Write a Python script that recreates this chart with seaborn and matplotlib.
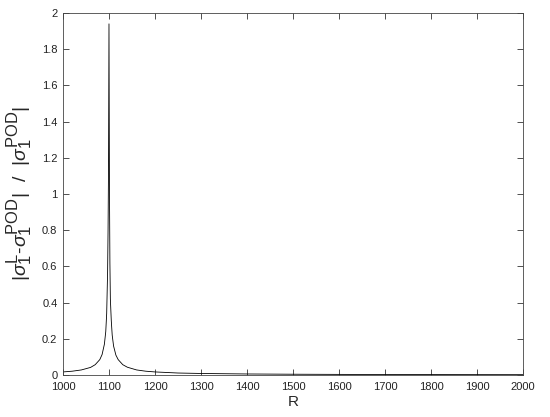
import numpy as np
import pandas as pd
import matplotlib
matplotlib.use("Agg")
import matplotlib.pyplot as plt
import matplotlib._mathtext as mtext
import seaborn as sb
from matplotlib.ticker import FormatStrFormatter

# Values
R_vals = [1000, 1020, 1040, 1060, 1070, 1080, 1085, 1090, 1093, 1095,
          1097, 1098, 1099, 1100, 1101, 1102, 1103, 1105, 1107, 1110,
          1115, 1120, 1130, 1140, 1160, 1180, 1200, 1250, 1300, 1400,
          1500, 1600, 1700, 1800, 1900, 2000]
rel_err = [0.017, 0.021, 0.028, 0.042, 0.057, 0.085, 0.113, 0.17, 0.24, 0.34,
           0.57, 0.8, 1.15, 1.94, 1.05, 0.62, 0.42, 0.3, 0.22, 0.16,
           0.11, 0.085, 0.057, 0.043, 0.028, 0.021, 0.017, 0.011, 0.0085, 0.0057,
           0.0043, 0.0034, 0.0028, 0.0024, 0.0021, 0.0019]
x_ticks = [1000, 1100, 1200, 1300, 1400, 1500, 1600, 1700, 1800, 1900, 2000]
y_ticks = [0, 0.2, 0.4, 0.6, 0.8, 1, 1.2, 1.4, 1.6, 1.8, 2]

df = pd.DataFrame({"R": R_vals, "err": rel_err})

sb.set_style("ticks")
plt.rcParams['font.family'] = ['Liberation Sans', 'DejaVu Sans']
plt.rcParams['mathtext.fontset'] = 'custom'
plt.rcParams['mathtext.rm'] = 'Liberation Sans'
plt.rcParams['mathtext.it'] = 'Liberation Sans:italic'
# bigger sub/superscripts, closer to the original look
mtext.SHRINK_FACTOR = 0.85

fig = plt.figure(figsize=(5.5, 4.17), dpi=100)
ax = fig.add_axes([0.1145, 0.1007, 0.8365, 0.8681])

sb.lineplot(data=df, x="R", y="err", color="black", linewidth=0.6, ax=ax)

ax.set_xlim(1000, 2000)
ax.set_ylim(0, 2)
ax.set_xticks(x_ticks)
ax.set_yticks(y_ticks)
ax.yaxis.set_major_formatter(FormatStrFormatter('%g'))
ax.tick_params(direction="in", length=4.5, width=0.6, colors="#333333",
               labelsize=8, labelcolor="#222222",
               top=True, right=True)
ax.tick_params(axis="x", pad=5)
ax.tick_params(axis="y", pad=4)
for sp in ax.spines.values():
    sp.set_visible(True)
    sp.set_linewidth(0.6)
    sp.set_color("#444444")

ax.set_xlabel("R", fontsize=11, labelpad=2)
ax.set_ylabel(r"$|\sigma_1^{\rm L}$-$\sigma_1^{\rm POD}|$  /  $|\sigma_1^{\rm POD}|$",
              fontsize=14, labelpad=5)

plt.savefig("out.png", dpi=100)
